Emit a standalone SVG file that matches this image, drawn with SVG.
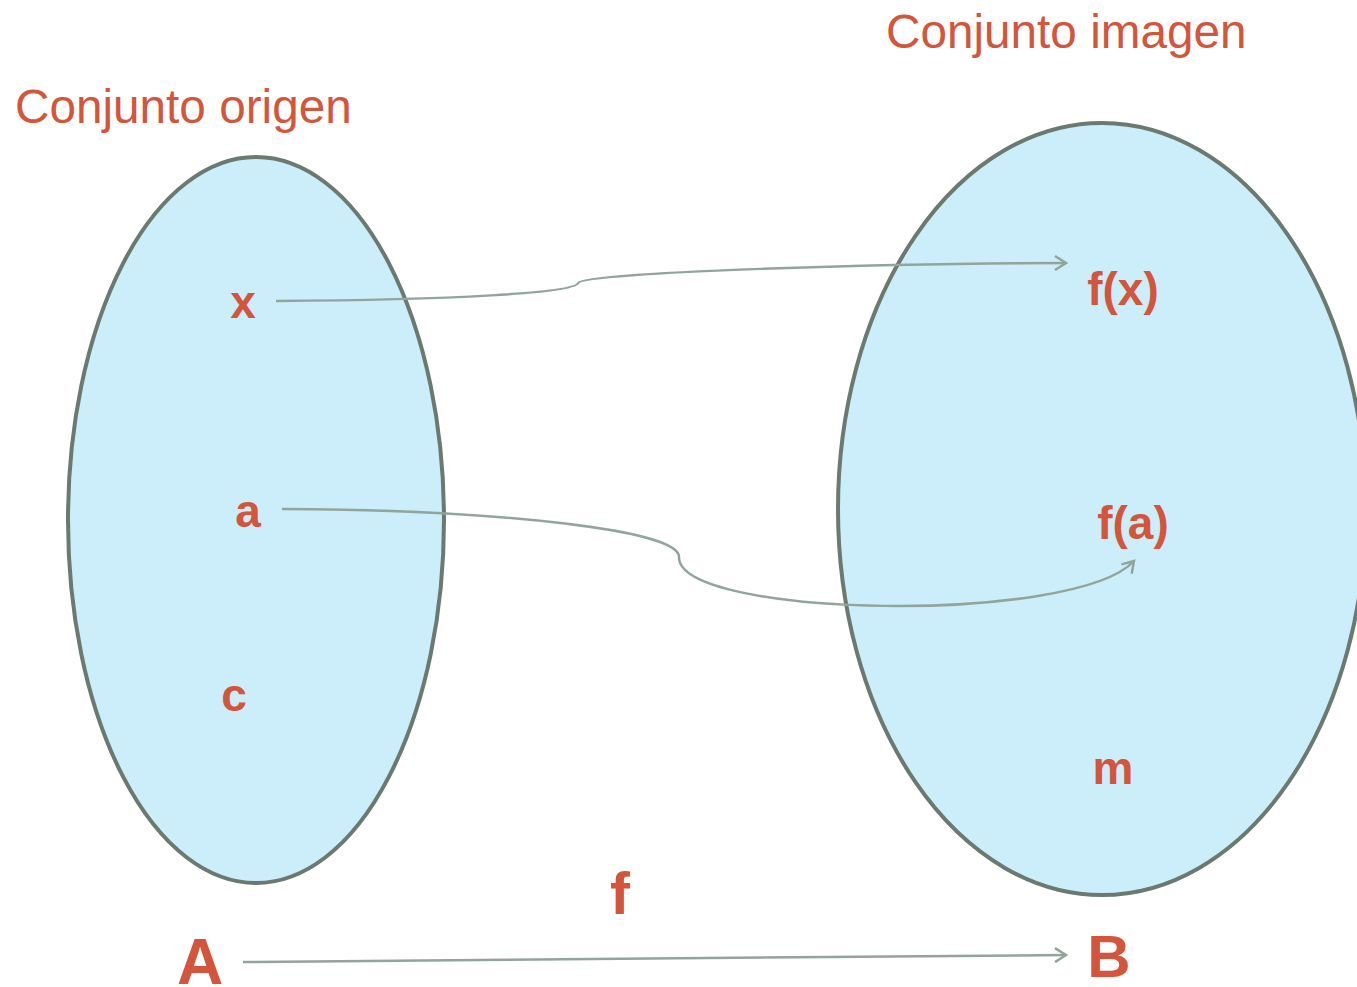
<svg xmlns="http://www.w3.org/2000/svg" width="1357" height="987" viewBox="0 0 1357 987">
<style>
.set{fill:#cbeefa;stroke:#6c7970;stroke-width:4}
.title{font-family:"Liberation Sans",Arial,sans-serif;font-size:47.7px;fill:#d2553c}
.lbl{font-family:"Liberation Sans",Arial,sans-serif;font-weight:bold;font-size:46px;fill:#d2553c;text-anchor:middle}
.big{font-family:"Liberation Sans",Arial,sans-serif;font-weight:bold;fill:#d2553c;text-anchor:middle}
.conn{fill:none;stroke:#93a49b;stroke-width:2.5}
</style>
<defs>
<marker id="arr" markerWidth="16" markerHeight="16" refX="13" refY="8" orient="auto" markerUnits="userSpaceOnUse">
<path d="M2,1 L13,8 L2,15" fill="none" stroke="#93a49b" stroke-width="2.5"/>
</marker>
</defs>
<rect width="1357" height="987" fill="#ffffff"/>
<g id="setA">
<ellipse class="set" cx="256" cy="520" rx="188" ry="363"/>
<text class="title" x="15" y="123">Conjunto origen</text>
</g>
<g id="setB">
<ellipse class="set" cx="1102" cy="509" rx="264" ry="386"/>
<text class="title" x="886" y="48">Conjunto imagen</text>
</g>
<g id="connectors">
<path class="conn" d="M276,301 C450,300 575,293 578,283 C581,272 900,263 1066,263" marker-end="url(#arr)"/>
<path class="conn" d="M282,509 C500,510 680,530 679,557 C678,618 1075,625 1134,561" marker-end="url(#arr)"/>
<path class="conn" d="M243,962 L1066,955" marker-end="url(#arr)"/>
</g>
<g id="node-x"><text class="lbl" x="243" y="318">x</text></g>
<g id="node-a"><text class="lbl" x="248" y="527">a</text></g>
<g id="node-c"><text class="lbl" x="234" y="711">c</text></g>
<g id="node-fx"><text class="lbl" x="1123" y="305">f(x)</text></g>
<g id="node-fa"><text class="lbl" x="1133" y="539">f(a)</text></g>
<g id="node-m"><text class="lbl" x="1113" y="784">m</text></g>
<g id="label-f"><text class="big" x="620" y="914" font-size="60">f</text></g>
<g id="label-A"><text class="big" x="200" y="984" font-size="64">A</text></g>
<g id="label-B"><text class="big" x="1109" y="977" font-size="60">B</text></g>
</svg>
